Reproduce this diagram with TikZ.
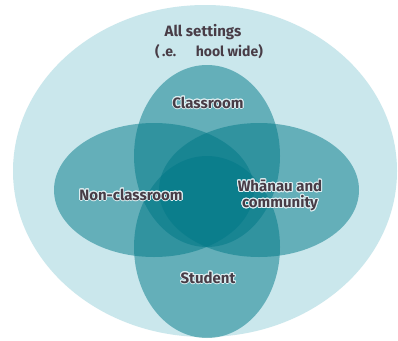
\documentclass[tikz,border=0pt]{standalone}
\usepackage{fontspec}
\setmainfont{Fira Sans}
\usepackage{contour}
\contourlength{0.9pt}
\contournumber{16}
\definecolor{outerfill}{RGB}{202,231,236}
\definecolor{tealfill}{RGB}{0,120,135}
\definecolor{labeltext}{RGB}{72,60,70}
\definecolor{glow}{RGB}{222,239,242}
\tikzset{
  setbox/.style={fill=tealfill, fill opacity=0.5},
  lab/.style={text=labeltext, font=\bfseries\fontsize{15}{17}\selectfont, align=center, inner sep=0pt},
  toplab/.style={text=labeltext, font=\bfseries\fontsize{15}{17}\selectfont, align=center, inner sep=0pt}
}
\newcommand{\gl}[1]{\contour{glow}{#1}}
\begin{document}
\begin{tikzpicture}[x=1pt,y=-1pt]
\useasboundingbox (0,0) rectangle (398,340);
\fill[white] (0,0) rectangle (398,340);
% outer
\fill[outerfill] (205,171) ellipse [x radius=192pt, y radius=166pt];
% four ellipses
\fill[setbox] (207,156) ellipse [x radius=73pt, y radius=91pt];
\fill[setbox] (207,247) ellipse [x radius=73pt, y radius=91pt];
\fill[setbox] (154,190) ellipse [x radius=100pt, y radius=67pt];
\fill[setbox] (259,190) ellipse [x radius=100pt, y radius=67pt];
% labels
\node[toplab] (all) at (203,32) {All settings};
\node[toplab, font=\bfseries\fontsize{14}{16}\selectfont] (ie) at (209,52) {(\,.e.\hspace{1.4em}hool wide)};
\node[lab] (cls) at (208,103) {\gl{Classroom}};
\node[lab] (ncls) at (131,195) {\gl{Non-classroom}};
\node[lab] (wh) at (280,196) {\gl{Whānau and}\\[-1pt]\gl{community}};
\node[lab] (stu) at (208,278) {\gl{Student}};
\end{tikzpicture}
\end{document}
